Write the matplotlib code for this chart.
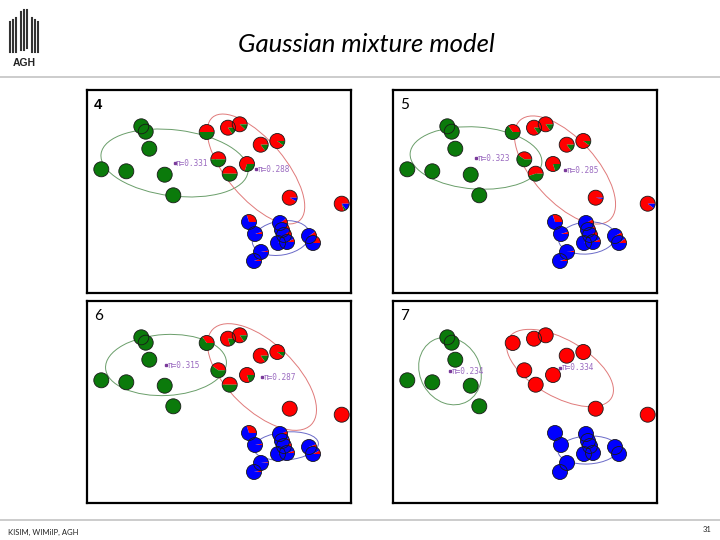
import matplotlib
matplotlib.use("Agg")
import matplotlib.pyplot as plt
from matplotlib.patches import Wedge, Ellipse, Circle
from matplotlib.lines import Line2D

# ---------------- data ----------------
# point coordinates (panel pixel units, y downwards)
pts_x = [54.3, 58.7, 62.3, 14.3, 39.3, 77.7, 86.3,
         119.7, 141.0, 152.7, 173.7, 190.3, 131.3, 142.7, 160.0, 202.7, 254.7,
         162, 168, 174, 167, 193, 195, 197, 191, 200, 222, 226]
pts_y = [36.3, 41.7, 58.7, 79.3, 81.3, 84.7, 105.3,
         42.0, 37.7, 34.3, 54.7, 51.0, 69.3, 83.7, 74.0, 107.7, 113.7,
         132, 144, 162, 171, 133, 140, 145, 153, 152, 146, 153]

panel_labels = ["4", "5", "6", "7"]

# responsibilities (red, green, blue) for each point and iteration
G = (0, 1, 0)
resp_4 = [G] * 7 + [(.5, .5, 0), (.85, .15, 0), (.88, .12, 0), (.85, .15, 0), (.9, .1, 0),
                    (.5, .5, 0), (.5, .5, 0), (.7, .3, 0), (.92, 0, .08), (.8, .05, .15),
                    (.3, 0, .7), (.05, 0, .95), (.03, 0, .97), (.05, 0, .95), (.1, 0, .9),
                    (.1, 0, .9), (.1, 0, .9), (.05, 0, .95), (.07, 0, .93), (.1, 0, .9), (.15, 0, .85)]
resp_5 = [G] * 7 + [(.35, .65, 0), (.85, .15, 0), (.85, .15, 0), (.85, .15, 0), (.9, .1, 0),
                    (.4, .6, 0), (.55, .45, 0), (.8, .2, 0), (.97, 0, .03), (.9, 0, .1),
                    (.3, 0, .7), (.05, 0, .95), (.03, 0, .97), (.05, 0, .95), (.08, 0, .92),
                    (.08, 0, .92), (.08, 0, .92), (.05, 0, .95), (.06, 0, .94), (.08, 0, .92), (.1, 0, .9)]
resp_6 = [G] * 7 + [(.35, .65, 0), (.8, .2, 0), (.85, .15, 0), (.85, .15, 0), (.9, .1, 0),
                    (.4, .6, 0), (.5, .5, 0), (.8, .2, 0), (1, 0, 0), (1, 0, 0),
                    (.3, 0, .7), (.03, 0, .97), (.02, 0, .98), (.03, 0, .97), (.06, 0, .94),
                    (.06, 0, .94), (.06, 0, .94), (.03, 0, .97), (.05, 0, .95), (.06, 0, .94), (.08, 0, .92)]
resp_7 = [G] * 7 + [(1, 0, 0)] * 10 + [(0, 0, 1)] * 11
responsibilities = [resp_4, resp_5, resp_6, resp_7]

# ellipses per panel: (cx, cy, width, height, angle)  order: green, red, blue
ell_4 = [(87.5, 73, 148, 66, 7), (169, 79, 135, 58, 50), (194, 148, 58, 34, -10)]
ell_5 = [(83, 68, 132, 62, 4), (172, 80, 134, 63, 48), (194, 148, 57, 32, -5)]
ell_6 = [(79, 64, 121, 61, -3), (175, 76, 137, 67, 44), (199, 145, 65, 28, -5)]
ell_7 = [(57, 70, 70, 60, 60), (167, 67, 119, 57, 30), (195, 149, 60, 28, -3)]
ellipses = [ell_4, ell_5, ell_6, ell_7]

# mixing weights shown at green / red means
pi_values = [(0.331, 0.288), (0.323, 0.285), (0.315, 0.287), (0.234, 0.334)]

# ---------------- styling ----------------
W, H = 720, 540
fig = plt.figure(figsize=(7.2, 5.4), dpi=100)
fig.patch.set_facecolor("white")

def rect(x0, y0, x1, y1):
    return [x0 / W, 1 - y1 / H, (x1 - x0) / W, (y1 - y0) / H]

panel_boxes = [(87, 90, 351, 293), (393, 90, 657, 293),
               (87, 301, 351, 503), (393, 301, 657, 503)]

fill_cols = ["#ff0000", "#0b7a0b", "#0000ff"]
ell_cols = ["#6a9e6a", "#e07a7a", "#6a6ac8"]
R = 7.5

for k, box in enumerate(panel_boxes):
    ax = fig.add_axes(rect(*box))
    pw, ph = box[2] - box[0], box[3] - box[1]
    ax.set_xlim(0, pw)
    ax.set_ylim(ph, 0)
    ax.set_xticks([])
    ax.set_yticks([])
    for s in ax.spines.values():
        s.set_linewidth(1.6)
        s.set_color("black")

    for (cx, cy, w, h, a), c in zip(ellipses[k], ell_cols):
        ax.add_patch(Ellipse((cx, cy), w, h, angle=a, fill=False,
                             edgecolor=c, lw=0.7, zorder=1))

    for x, y, rgb in zip(pts_x, pts_y, responsibilities[k]):
        start = 0.0
        for frac, col in zip(rgb, fill_cols):
            if frac <= 0:
                continue
            end = start + frac
            ax.add_patch(Wedge((x, y), R, -end * 360, -start * 360,
                               facecolor=col, edgecolor="none", zorder=2))
            start = end
        ax.add_patch(Circle((x, y), R, fill=False, edgecolor="#1a1a1a",
                            lw=0.6, zorder=3))

    # means with pi labels (green and red components)
    for (cx, cy, w, h, a), v in zip(ellipses[k][:2], pi_values[k]):
        ax.plot([cx], [cy], marker="s", ms=1.6, color="#7a3a9a", zorder=4)
        ax.text(cx + 1.5, cy, f"π={v:.3f}", fontsize=5.6, color="#9a6ac0",
                family="DejaVu Sans Mono", va="center", ha="left", zorder=4)

    if k == 0:
        ax.text(7, 15, panel_labels[k], fontsize=10.5, fontweight="bold",
                family="Liberation Sans", va="center", ha="left")
    else:
        ax.text(7, 15, panel_labels[k], fontsize=11, family="Lato",
                va="center", ha="left")

# title
fig.text(366 / W, 1 - 45 / H, "Gaussian mixture model", fontsize=18.5,
         family="Lato", style="italic", ha="center", va="center")

# horizontal rules
fig.add_artist(Line2D([0, 1], [1 - 77 / H, 1 - 77 / H], color="#c4c4c4", lw=1.2))
fig.add_artist(Line2D([0, 1], [1 - 520 / H, 1 - 520 / H], color="#c4c4c4", lw=1.2))

# AGH logo (stylised bars)
bars = [(10, 22, 52), (13, 20, 52), (16, 18, 52), (21, 12, 50), (24, 10, 50),
        (27, 10, 48), (32, 18, 52), (35, 20, 52), (38, 22, 52)]
for bx, by0, by1 in bars:
    fig.add_artist(Line2D([bx / W, bx / W], [1 - by0 / H, 1 - by1 / H],
                          color="#333333", lw=1.5))
fig.text(24 / W, 1 - 63 / H, "AGH", fontsize=7.5, fontweight="bold",
         family="Liberation Sans", ha="center", va="center", color="#222222")

# footer
fig.text(8 / W, 1 - 532 / H, "KISIM, WIMiIP, AGH", fontsize=5.5,
         family="Lato", ha="left", va="center", color="#222222")
fig.text(712 / W, 1 - 530 / H, "31", fontsize=5.5, family="Lato",
         ha="right", va="center", color="#222222")

fig.savefig("out.png", dpi=100, facecolor="white")
